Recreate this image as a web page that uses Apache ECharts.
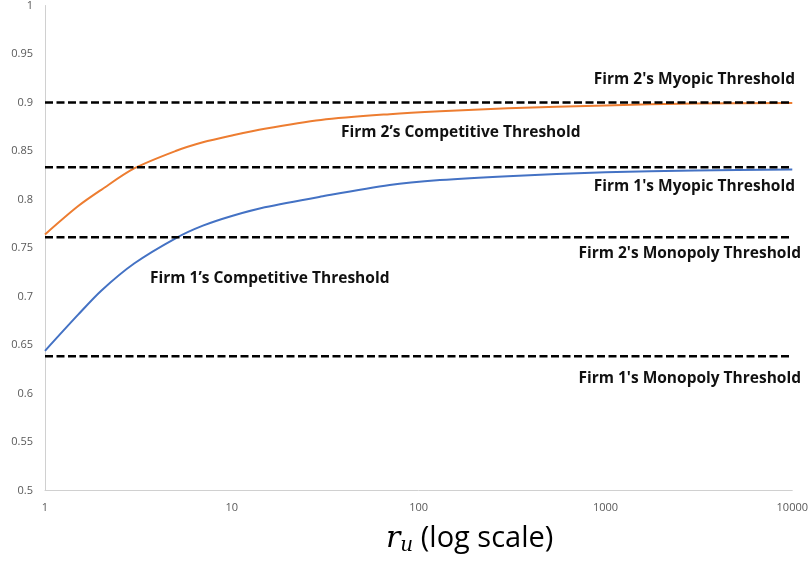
<!DOCTYPE html>
<html><head><meta charset="utf-8">
<script src="https://cdn.jsdelivr.net/npm/echarts@6/dist/echarts.min.js"></script>
<style>html,body{margin:0;padding:0;background:#fff}#c{width:811px;height:564px}</style>
</head><body><div id="c"></div>
<script>
// ---- data ----
const rValues = [1, 1.5, 2, 3, 5, 7, 10, 15, 30, 70, 130, 300, 1000, 3000, 10000];
const firm2Competitive = [0.764, 0.793, 0.810, 0.832, 0.850, 0.859, 0.866, 0.873, 0.882, 0.888, 0.891, 0.894, 0.897, 0.899, 0.8995];
const firm1Competitive = [0.644, 0.681, 0.706, 0.734, 0.760, 0.773, 0.783, 0.792, 0.803, 0.815, 0.820, 0.824, 0.828, 0.830, 0.831];
const thresholdNames = ["Firm 2's Myopic Threshold", "Firm 1's Myopic Threshold", "Firm 2's Monopoly Threshold", "Firm 1's Monopoly Threshold"];
const thresholdValues = [0.9, 0.8333, 0.761, 0.6385];
const xRange = [1, 10000];
const yRange = [0.5, 1];
const yStep = 0.05;

const chart = echarts.init(document.getElementById('c'));
const labelFont = '"Open Sans", sans-serif';

const series = [
  { name: "Firm 2's Competitive Threshold", type: 'line', smooth: 0.3, showSymbol: false,
    data: rValues.map((r, i) => [r, firm2Competitive[i]]),
    lineStyle: { color: '#ED7D31', width: 2 }, itemStyle: { color: '#ED7D31' }, z: 2 },
  { name: "Firm 1's Competitive Threshold", type: 'line', smooth: 0.3, showSymbol: false,
    data: rValues.map((r, i) => [r, firm1Competitive[i]]),
    lineStyle: { color: '#4472C4', width: 2 }, itemStyle: { color: '#4472C4' }, z: 2 }
];
thresholdValues.forEach((v, i) => {
  series.push({ name: thresholdNames[i], type: 'line', showSymbol: false,
    data: xRange.map(x => [x, v]),
    lineStyle: { color: '#000', width: 2.5, type: [8, 3.5] }, z: 3 });
});

function txt(text, x, y, align) {
  return { type: 'text', x: x, y: y,
    style: { text: text, fill: '#111', font: 'bold 15.5px ' + labelFont, textAlign: align, textVerticalAlign: 'middle' } };
}

chart.setOption({
  animation: false,
  grid: { left: 45, right: 16, top: 5.5, bottom: 73.5, containLabel: false },
  xAxis: { type: 'log', logBase: 10, min: xRange[0], max: xRange[1],
    axisLine: { lineStyle: { color: '#d0d0d0', width: 1 } },
    axisTick: { show: false }, splitLine: { show: false },
    axisLabel: { color: '#595959', fontSize: 11, fontFamily: labelFont, margin: 12,
      formatter: v => String(Math.round(v)) } },
  yAxis: { type: 'value', min: yRange[0], max: yRange[1], interval: yStep,
    axisLine: { show: true, lineStyle: { color: '#d0d0d0', width: 1 } },
    axisTick: { show: false }, splitLine: { show: false },
    axisLabel: { color: '#595959', fontSize: 11, fontFamily: labelFont, margin: 12,
      formatter: v => String(+v.toFixed(2)) } },
  series: series,
  graphic: [
    txt(thresholdNames[0], 795, 79.5, 'right'),
    txt("Firm 2\u2019s Competitive Threshold", 341, 133, 'left'),
    txt(thresholdNames[1], 795, 186.5, 'right'),
    txt(thresholdNames[2], 801, 254, 'right'),
    txt("Firm 1\u2019s Competitive Threshold", 150, 278.5, 'left'),
    txt(thresholdNames[3], 801, 378.5, 'right'),
    { type: 'text', x: 386, y: 539,
      style: { text: '{r|r}{u|u}{t| (log scale)}', textVerticalAlign: 'middle', fill: '#000',
        rich: {
          r: { fontFamily: '"DejaVu Serif", serif', fontStyle: 'italic', fontSize: 30, fill: '#000' },
          u: { fontFamily: '"DejaVu Serif", serif', fontStyle: 'italic', fontSize: 20, fill: '#000', verticalAlign: 'bottom', padding: [14, 0, 0, 0] },
          t: { fontFamily: labelFont, fontSize: 29, fill: '#000' }
        } } }
  ]
});
</script></body></html>
